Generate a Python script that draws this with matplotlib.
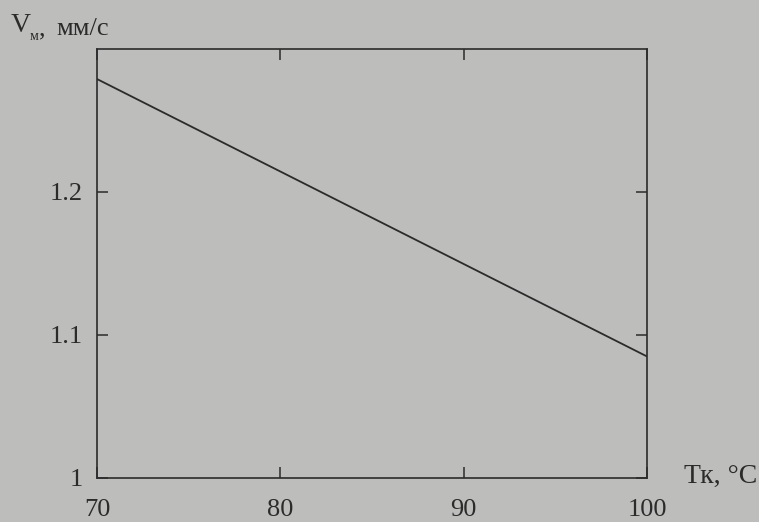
import matplotlib
matplotlib.use("Agg")
import matplotlib.pyplot as plt

# Data
temps = [70, 100]
speeds = [1.279, 1.085]
xticks = [70, 80, 90, 100]
yticks = [1.0, 1.1, 1.2]
ytick_labels = ["1", "1.1", "1.2"]

bg = "#bdbdbb"
ink = "#2b2b2b"
plt.rcParams['font.family'] = ['Liberation Serif', 'DejaVu Serif']

fig = plt.figure(figsize=(7.59, 5.22), dpi=100, facecolor=bg)
ax = fig.add_axes([97/759, 1 - 478/522, (647-97)/759, (478-49)/522])
ax.set_facecolor(bg)

ax.plot(temps, speeds, color=ink, lw=1.3)

ax.set_xlim(70, 100)
ax.set_ylim(1.0, 1.3)
ax.set_xticks(xticks)
ax.set_xticklabels([str(t) for t in xticks])
ax.set_yticks(yticks)
ax.set_yticklabels(ytick_labels)

for s in ax.spines.values():
    s.set_color(ink)
    s.set_linewidth(1.2)

ax.tick_params(axis='x', direction='in', length=8, width=1.1, color=ink,
               labelcolor=ink, labelsize=19, pad=15, top=True)
ax.tick_params(axis='y', direction='in', length=8, width=1.1, color=ink,
               labelcolor=ink, labelsize=19, pad=10, right=True)

fig.text(684/759, 1 - 476/522, "Тк, °С", fontsize=20, color=ink,
         ha='left', va='center')
fig.text(11/759, 1 - 26/522, "V", fontsize=20, color=ink, ha='left', va='center')
fig.text(30/759, 1 - 37/522, "м", fontsize=10, color=ink, ha='left', va='center')
fig.text(39/759, 1 - 29/522, ",", fontsize=19, color=ink, ha='left', va='center')
fig.text(56/759, 1 - 29/522, "мм/с", fontsize=19, color=ink, ha='left', va='center')

fig.savefig("out.png", dpi=100, facecolor=bg)
